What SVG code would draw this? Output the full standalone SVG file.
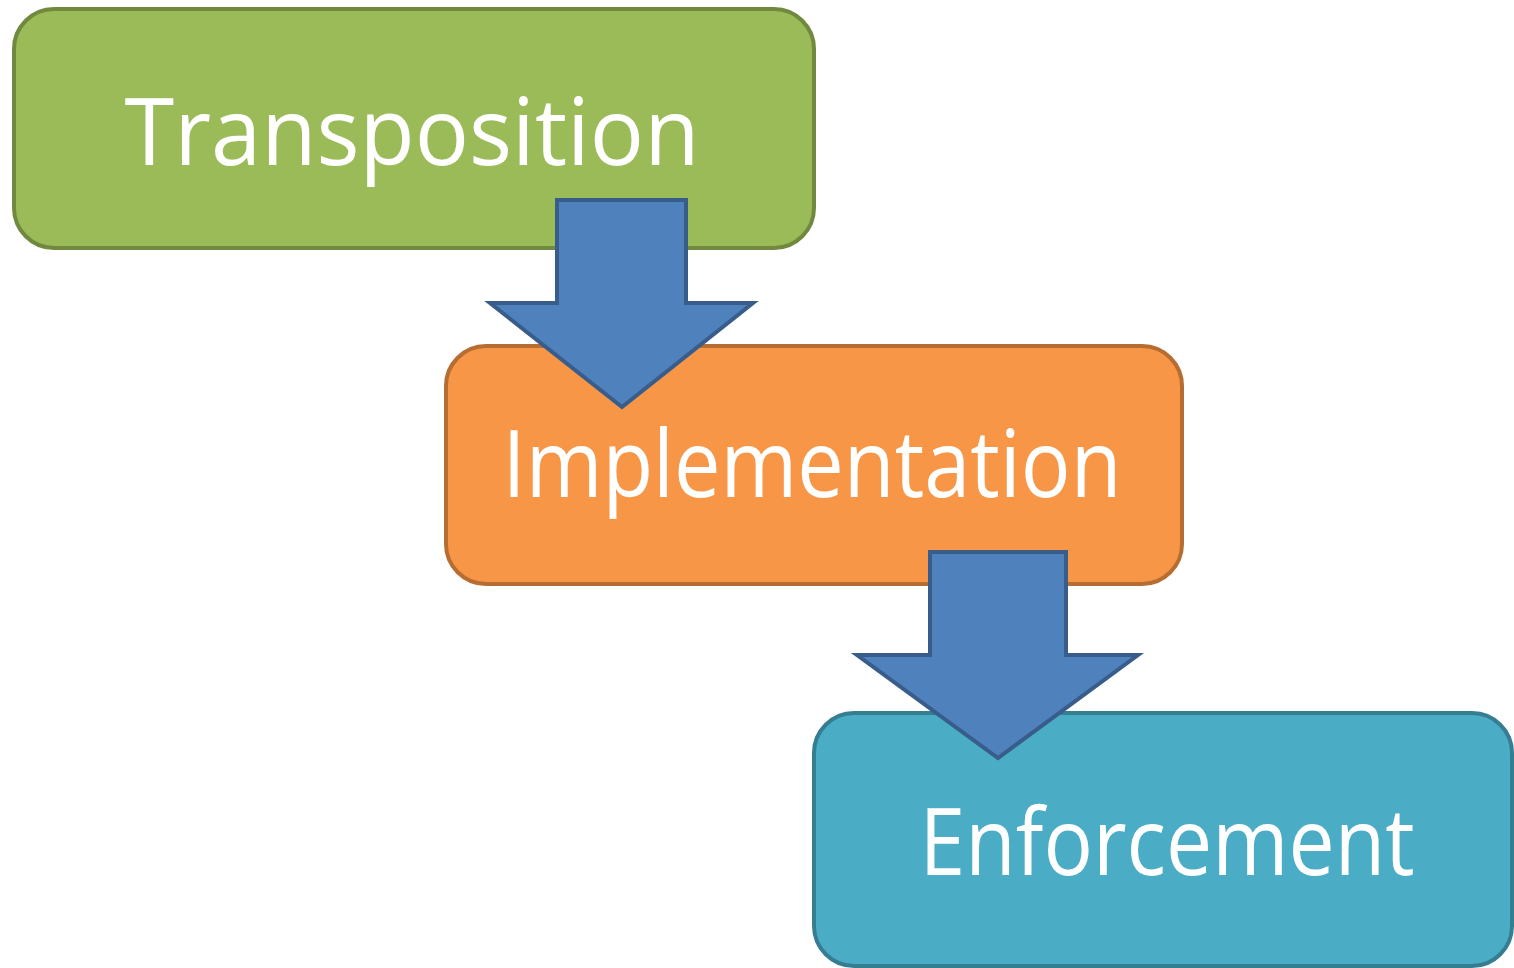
<svg xmlns="http://www.w3.org/2000/svg" width="1514" height="968" viewBox="0 0 1514 968">
<style>
.box{stroke-width:4}
.lbl{font-family:"Open Sans","Noto Sans","Liberation Sans",sans-serif;font-size:94px;fill:#ffffff;text-anchor:middle}
.arr{fill:#4F81BD;stroke:#385D8A;stroke-width:4;stroke-linejoin:miter}
</style>
<rect width="1514" height="968" fill="#ffffff"/>
<g id="transposition">
<rect class="box" x="14" y="9" width="800" height="239" rx="40" fill="#9BBB59" stroke="#71893F"/>
<text class="lbl" x="412" y="165" textLength="575" lengthAdjust="spacingAndGlyphs">Transposition</text>
</g>
<g id="implementation">
<rect class="box" x="446" y="346" width="736" height="238" rx="40" fill="#F79646" stroke="#B66D31"/>
<text class="lbl" x="812" y="497" textLength="619" lengthAdjust="spacingAndGlyphs">Implementation</text>
</g>
<g id="enforcement">
<rect class="box" x="814" y="713" width="698" height="253" rx="40" fill="#4BACC6" stroke="#357D91"/>
<text class="lbl" x="1167" y="875" textLength="495" lengthAdjust="spacingAndGlyphs">Enforcement</text>
</g>
<g id="connectors">
<path class="arr" d="M557,200 H686 V303 H753 L622,407 L490,303 H557 Z"/>
<path class="arr" d="M930,552 H1066 V655 H1138 L998,758 L857,655 H930 Z"/>
</g>
</svg>
